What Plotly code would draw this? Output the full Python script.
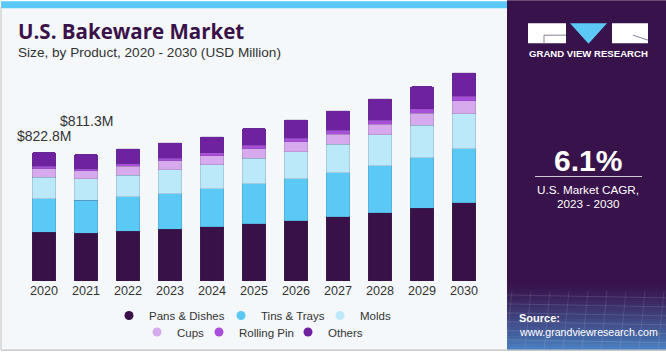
import plotly.graph_objects as go

years = ["2020", "2021", "2022", "2023", "2024", "2025", "2026", "2027", "2028", "2029", "2030"]
pans_dishes = [310, 305, 318, 331, 348, 365, 384, 409, 435, 464, 499]
tins_trays = [216, 210, 219, 227, 240, 256, 269, 282, 301, 322, 345]
molds = [138, 138, 140, 153, 155, 163, 174, 182, 197, 210, 223]
cups = [53, 51, 55, 57, 57, 61, 64, 65, 70, 76, 83]
rolling_pin = [15, 14, 16, 17, 18, 21, 22, 24, 25, 27, 31]
others = [91, 93, 98, 99, 105, 110, 118, 127, 137, 144, 149]

series_names = ["Pans & Dishes", "Tins & Trays", "Molds", "Cups", "Rolling Pin", "Others"]
series_values = [pans_dishes, tins_trays, molds, cups, rolling_pin, others]
series_colors = ["#381148", "#5BC9F6", "#BCE9F9", "#D6AAEC", "#A94FDA", "#6E22A0"]

label_years = ["2020", "2021"]
label_texts = ["$822.8M", "$811.3M"]
label_shift = [16, 33]

W, H = 666, 357
L, R, T, B = 23, 181, 70, 75
PW, PH = W - L - R, H - T - B


def X(px):
    return (px - L) / PW


def Y(py):
    return (H - B - py) / PH


FONT = "Liberation Sans, Arial, sans-serif"

# legend layout: (legend id, per-entry width in px)
legend_ids = ["legend", "legend", "legend", "legend2", "legend2", "legend2"]
legend_widths = [67, 54, 40, 17, 44, 40]

fig = go.Figure()
for name, vals, col in zip(series_names, series_values, series_colors):
    fig.add_trace(go.Bar(
        x=years, y=vals, name=name, marker_color=col,
        marker_line=dict(width=0.5, color="rgba(70,60,100,0.35)"),
        showlegend=False, hoverinfo="skip"))

for name, col, lg, lw in zip(series_names, series_colors, legend_ids, legend_widths):
    fig.add_trace(go.Scatter(
        x=[years[0]], y=[None], mode="markers", name=name,
        marker=dict(symbol="circle", size=9, color=col),
        legend=lg, legendwidth=lw, showlegend=True, hoverinfo="skip"))

totals = [sum(v) for v in zip(*series_values)]
annotations = []
for yr, txt, sh in zip(label_years, label_texts, label_shift):
    idx = years.index(yr)
    annotations.append(dict(x=idx, y=totals[idx], xref="x", yref="y", text=txt,
                            showarrow=False, yanchor="middle", yshift=sh,
                            font=dict(family=FONT, size=14, color="#333333")))

# Title and subtitle
annotations.append(dict(x=X(16), y=Y(31), xref="paper", yref="paper", xanchor="left", yanchor="middle",
                        text="<b>U.S. Bakeware Market</b>", showarrow=False,
                        font=dict(family="Open Sans, Liberation Sans, sans-serif", size=20.5, color="#3A1249")))
annotations.append(dict(x=X(16), y=Y(52), xref="paper", yref="paper", xanchor="left", yanchor="middle",
                        text="Size, by Product, 2020 - 2030 (USD Million)", showarrow=False,
                        font=dict(family=FONT, size=13.6, color="#333333")))

# Right panel texts
annotations += [
    dict(x=X(588), y=Y(53), xref="paper", yref="paper", text="<b>GRAND VIEW RESEARCH</b>", showarrow=False,
         xanchor="center", yanchor="middle", font=dict(family=FONT, size=9.6, color="#FFFFFF")),
    dict(x=X(588), y=Y(161), xref="paper", yref="paper", text="<b>6.1%</b>", showarrow=False,
         xanchor="center", yanchor="middle", font=dict(family=FONT, size=30, color="#FFFFFF")),
    dict(x=X(588), y=Y(190), xref="paper", yref="paper", text="U.S. Market CAGR,", showarrow=False,
         xanchor="center", yanchor="middle", font=dict(family=FONT, size=11.7, color="#FFFFFF")),
    dict(x=X(588), y=Y(204), xref="paper", yref="paper", text="2023 - 2030", showarrow=False,
         xanchor="center", yanchor="middle", font=dict(family=FONT, size=11.7, color="#FFFFFF")),
    dict(x=X(517), y=Y(319), xref="paper", yref="paper", text="<b>Source:</b>", showarrow=False,
         xanchor="left", yanchor="middle", font=dict(family=FONT, size=11, color="#FFFFFF")),
    dict(x=X(517), y=Y(333), xref="paper", yref="paper", text="www.grandviewresearch.com", showarrow=False,
         xanchor="left", yanchor="middle", font=dict(family=FONT, size=10.6, color="#FFFFFF")),
]


def rect(x0, y0, x1, y1, fill, layer="below", line=None):
    return dict(type="rect", xref="paper", yref="paper", x0=X(x0), x1=X(x1), y0=Y(y1), y1=Y(y0),
                fillcolor=fill, line=line or dict(width=0), layer=layer)


shapes = [
    rect(1, 2, 507, 351, "#F4F8FB"),
    rect(1, 1, 507, 8, "#5BC8F5"),
    rect(507, 0, 666, 351, "#38124A"),
]
# gradient at the bottom of the right panel
c0 = (0x38, 0x12, 0x4A)
c1 = (0x4A, 0x82, 0xC2)
n = 24
y_start, y_end = 282, 351
for k in range(n):
    t = (k + 0.5) / n
    col = tuple(int(c0[j] + (c1[j] - c0[j]) * t ** 1.3) for j in range(3))
    ya = y_start + (y_end - y_start) * k / n
    yb = y_start + (y_end - y_start) * (k + 1) / n + 0.5
    shapes.append(rect(507, ya, 666, yb, "rgb(%d,%d,%d)" % col))
# faint grid lines on the texture
for k in range(6):
    yy = 296 + k * 9
    shapes.append(dict(type="line", xref="paper", yref="paper", x0=X(507), x1=X(666), y0=Y(yy), y1=Y(yy + 3),
                       line=dict(color="rgba(255,255,255,0.12)", width=1), layer="below"))
for k in range(9):
    xx = 512 + k * 19
    shapes.append(dict(type="line", xref="paper", yref="paper", x0=X(xx), x1=X(xx - 6), y0=Y(292), y1=Y(351),
                       line=dict(color="rgba(255,255,255,0.10)", width=1), layer="below"))

shapes += [
    dict(type="line", xref="paper", yref="paper", x0=X(1), x1=X(1), y0=Y(351), y1=Y(6),
         line=dict(color="#C8C8C8", width=1.2), layer="below"),
    dict(type="line", xref="paper", yref="paper", x0=X(1), x1=X(666), y0=Y(351.5), y1=Y(351.5),
         line=dict(color="#C8C8C8", width=1.5), layer="below"),
    # logo
    rect(528, 23, 566, 43, "#FFFFFF", layer="above"),
    dict(type="path", xref="paper", yref="paper", layer="above",
         path="M %f,%f L %f,%f L %f,%f Z" % (X(570), Y(23), X(607), Y(23), X(588.5), Y(43.5)),
         fillcolor="#5BC8F5", line=dict(width=0)),
    rect(612, 23, 648, 43, "#FFFFFF", layer="above"),
    dict(type="line", xref="paper", yref="paper", x0=X(544), x1=X(566), y0=Y(35), y1=Y(35),
         line=dict(color="#8A7F9A", width=1), layer="above"),
    dict(type="line", xref="paper", yref="paper", x0=X(544), x1=X(544), y0=Y(35), y1=Y(43),
         line=dict(color="#8A7F9A", width=1), layer="above"),
    dict(type="line", xref="paper", yref="paper", x0=X(633), x1=X(648), y0=Y(35), y1=Y(40),
         line=dict(color="#8A7F9A", width=1), layer="above"),
    # CAGR divider
    dict(type="line", xref="paper", yref="paper", x0=X(535), x1=X(642), y0=Y(177), y1=Y(177),
         line=dict(color="#D0CCD6", width=1), layer="above"),
]

legend_common = dict(orientation="h", xanchor="left", yanchor="middle", traceorder="normal",
                     bgcolor="rgba(0,0,0,0)", font=dict(family=FONT, size=11.5, color="#333333"),
                     itemclick=False, itemdoubleclick=False)

fig.update_layout(
    width=W, height=H,
    margin=dict(l=L, r=R, t=T, b=B, pad=0),
    paper_bgcolor="#FFFFFF", plot_bgcolor="rgba(0,0,0,0)",
    barmode="stack", bargap=0.43, barcornerradius=2,
    xaxis=dict(type="category", categoryorder="array", categoryarray=years,
               range=[-0.5, len(years) - 0.5], autorange=False, fixedrange=True,
               showgrid=False, showline=False, zeroline=False, ticks="",
               tickfont=dict(family=FONT, size=12.6, color="#333333")),
    yaxis=dict(visible=False, range=[0, 1348], autorange=False, fixedrange=True),
    legend=dict(x=X(109), y=Y(315.5), **legend_common),
    legend2=dict(x=X(137), y=Y(332), **legend_common),
    annotations=annotations,
    shapes=shapes,
    showlegend=True,
    hovermode=False,
)

fig.write_html("out.html", config={"displayModeBar": False},
               post_script="document.body.style.margin='0';document.body.style.padding='0';")
